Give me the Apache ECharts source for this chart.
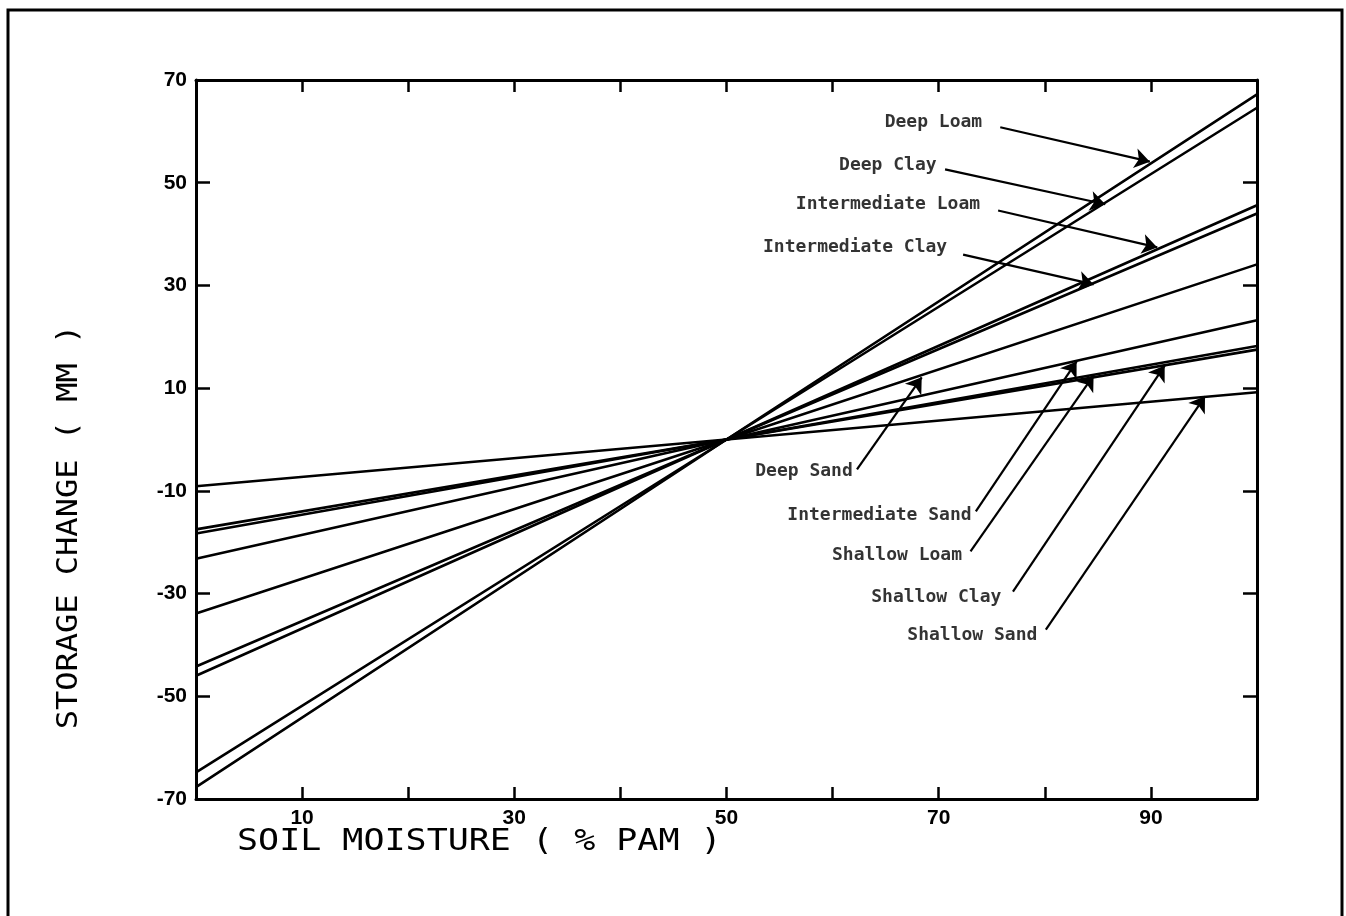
<!DOCTYPE html>
<html>
<head>
<meta charset="utf-8">
<script src="https://cdn.jsdelivr.net/npm/echarts@6/dist/echarts.min.js"></script>
<style>
html,body{margin:0;padding:0;background:#fff;}
#c{width:1346px;height:916px;}
</style>
</head>
<body>
<div id="c"></div>
<script>
// ---- data ----
var xPoints = [0, 50, 100];
var seriesNames = ['Deep Loam','Deep Clay','Intermediate Loam','Intermediate Clay','Deep Sand','Intermediate Sand','Shallow Loam','Shallow Clay','Shallow Sand'];
var deepLoam          = [-67.7, 0, 67.2];
var deepClay          = [-64.8, 0, 64.6];
var intermediateLoam  = [-46.0, 0, 45.6];
var intermediateClay  = [-44.2, 0, 44.0];
var deepSand          = [-33.9, 0, 34.1];
var intermediateSand  = [-23.2, 0, 23.2];
var shallowLoam       = [-18.3, 0, 18.2];
var shallowClay       = [-17.5, 0, 17.5];
var shallowSand       = [-9.1, 0, 9.2];
var seriesValues = [deepLoam, deepClay, intermediateLoam, intermediateClay, deepSand, intermediateSand, shallowLoam, shallowClay, shallowSand];

var xTickLabels = [10, 30, 50, 70, 90];
var yTickLabels = [-70, -50, -30, -10, 10, 30, 50, 70];

// annotation label anchors (right end of text) and arrows, in data units
var labelX = [74.1, 69.8, 73.9, 70.8, 61.9, 73.1, 72.2, 75.9, 79.3];
var labelY = [61.7, 53.4, 45.8, 37.4, -6.2, -14.8, -22.6, -30.8, -38.2];
var tailX  = [75.8, 70.6, 75.6, 72.3, 62.3, 73.5, 73.0, 77.0, 80.1];
var tailY  = [60.8, 52.6, 44.6, 36.0, -5.8, -14.0, -21.8, -29.6, -37.0];
var headX  = [89.9, 85.7, 90.6, 84.6, 68.4, 83.0, 84.6, 91.3, 95.1];
var headY  = [54.1, 45.8, 37.4, 30.2, 12.1, 15.2, 12.5, 14.4, 8.4];

// ---- chart ----
var chart = echarts.init(document.getElementById('c'));
var series = [];
seriesNames.forEach(function (name, i) {
  series.push({
    name: name,
    type: 'line',
    symbol: 'none',
    silent: true,
    lineStyle: {color: '#000', width: 2.6},
    data: xPoints.map(function (x, j) { return [x, seriesValues[i][j]]; })
  });
});
// arrows
series.push({
  type: 'line',
  data: [],
  silent: true,
  markLine: {
    silent: true,
    symbol: ['none', 'arrow'],
    symbolSize: 15,
    label: {show: false},
    lineStyle: {color: '#000', width: 2.2, type: 'solid'},
    data: seriesNames.map(function (n, i) {
      return [{coord: [tailX[i], tailY[i]]}, {coord: [headX[i], headY[i]]}];
    })
  }
});
// labels
series.push({
  type: 'scatter',
  symbolSize: 0,
  silent: true,
  data: seriesNames.map(function (n, i) { return {value: [labelX[i], labelY[i]], name: n}; }),
  label: {
    show: true,
    position: 'left',
    distance: 0,
    formatter: function (p) { return p.name; },
    color: '#000',
    fontFamily: 'DejaVu Sans Mono',
    fontWeight: 'bold',
    fontSize: 18
  }
});

var axisLineStyle = {color: '#000', width: 3};
var tickStyle = {color: '#000', width: 2.5};

chart.setOption({
  animation: false,
  backgroundColor: '#fff',
  grid: {left: 196, right: 89, top: 80, bottom: 117},
  xAxis: [{
    type: 'value', min: 0, max: 100, interval: 10,
    axisLine: {show: true, onZero: false, lineStyle: axisLineStyle},
    axisTick: {show: true, inside: true, length: 12, lineStyle: tickStyle},
    splitLine: {show: false},
    axisLabel: {
      margin: 9, color: '#000', fontFamily: 'Liberation Sans', fontWeight: 'bold', fontSize: 21,
      formatter: function (v) { return xTickLabels.indexOf(v) >= 0 ? String(v) : ''; }
    }
  }, {
    type: 'value', min: 0, max: 100, interval: 10, position: 'top',
    axisLine: {show: true, onZero: false, lineStyle: axisLineStyle},
    axisTick: {show: true, inside: true, length: 12, lineStyle: tickStyle},
    splitLine: {show: false},
    axisLabel: {show: false}
  }],
  yAxis: [{
    type: 'value', min: -70, max: 70, interval: 20,
    axisLine: {show: true, onZero: false, lineStyle: axisLineStyle},
    axisTick: {show: true, inside: true, length: 14, lineStyle: tickStyle},
    splitLine: {show: false},
    axisLabel: {
      margin: 9, color: '#000', fontFamily: 'Liberation Sans', fontWeight: 'bold', fontSize: 21,
      formatter: function (v) { return yTickLabels.indexOf(v) >= 0 ? String(v) : ''; }
    }
  }, {
    type: 'value', min: -70, max: 70, interval: 20, position: 'right',
    axisLine: {show: true, onZero: false, lineStyle: axisLineStyle},
    axisTick: {show: true, inside: true, length: 14, lineStyle: tickStyle},
    splitLine: {show: false},
    axisLabel: {show: false}
  }],
  graphic: [
    {type: 'rect', shape: {x: 8, y: 10, width: 1334, height: 920},
     style: {fill: 'none', stroke: '#000', lineWidth: 3}, silent: true, z: -1},
    {type: 'text', x: 237, y: 842, scaleY: 0.85,
     style: {text: 'SOIL MOISTURE ( % PAM )', fill: '#000', font: '35px "DejaVu Sans Mono"', textVerticalAlign: 'middle', textAlign: 'left'}},
    {type: 'text', x: 70, y: 527, rotation: Math.PI / 2, scaleY: 0.9,
     style: {text: 'STORAGE CHANGE ( MM )', fill: '#000', font: '32px "DejaVu Sans Mono"', textVerticalAlign: 'middle', textAlign: 'center'}}
  ],
  series: series
});
</script>
</body>
</html>
